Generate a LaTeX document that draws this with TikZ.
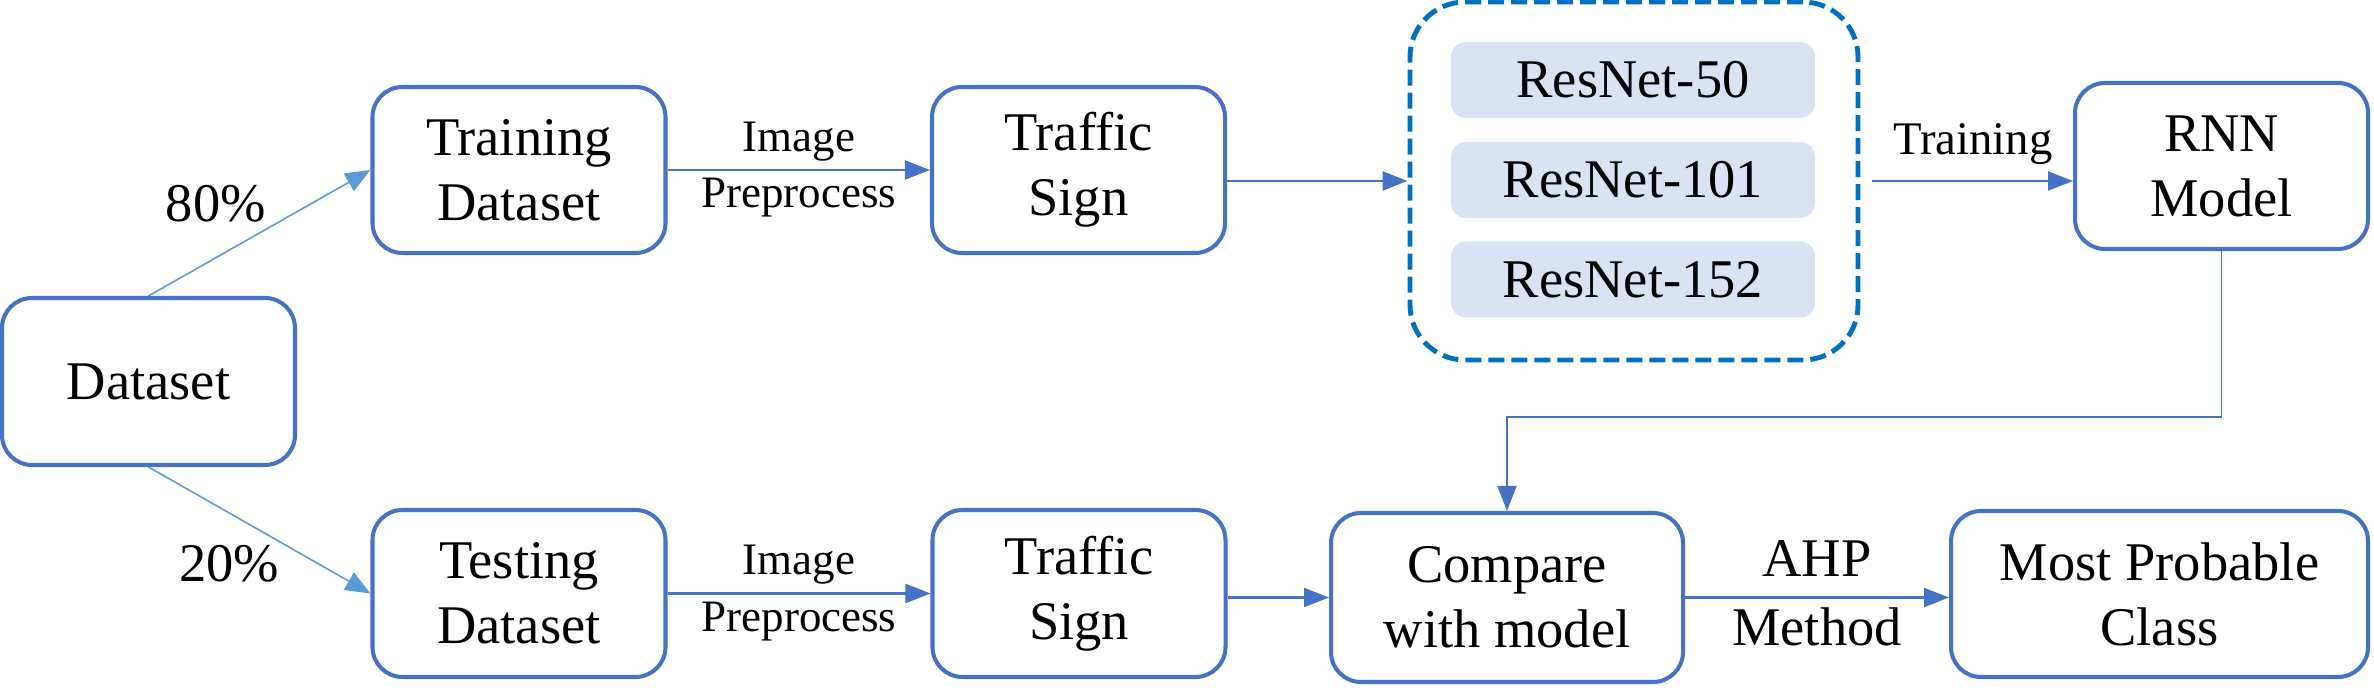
\documentclass[tikz,border=0pt]{standalone}
\usepackage{fontspec}
\setmainfont{Liberation Serif}
\usetikzlibrary{arrows.meta}

\definecolor{boxblue}{HTML}{4472C4}
\definecolor{dashblue}{HTML}{0070C0}
\definecolor{splitblue}{HTML}{5B9BD5}
\definecolor{resfill}{HTML}{DAE3F3}
\newcommand{\blockfont}{\fontsize{15.5}{18.5}\selectfont}
\newcommand{\edgefont}{\fontsize{12.8}{15}\selectfont}

\begin{document}
\begin{tikzpicture}[
  box/.style={draw=boxblue, line width=1.15pt, rounded corners=0.3cm,
    minimum width=2.93cm, minimum height=1.66cm, align=center, font=\blockfont},
  resbox/.style={fill=resfill, rounded corners=0.15cm, minimum width=3.64cm,
    minimum height=0.76cm, font=\blockfont},
  resgroup/.style={draw=dashblue, line width=1.4pt, dash pattern=on 0.16cm off 0.07cm,
    rounded corners=0.55cm, minimum width=4.48cm, minimum height=3.58cm},
  arr/.style={draw=boxblue, line width=0.6pt, -{Triangle[length=0.25cm,width=0.19cm]}},
  thinarr/.style={arr, line width=0.45pt},
  split/.style={draw=splitblue, line width=0.45pt, -{Triangle[length=0.25cm,width=0.2cm]}},
  edgelbl/.style={font=\edgefont, inner sep=0.07cm},
  biglbl/.style={font=\blockfont, inner sep=0.09cm}
]
\useasboundingbox (0,0) rectangle (23.74,6.96);

% boxes
\node[box, minimum height=1.67cm] (dataset) at (1.485,3.145) {Dataset};
\node[box] (train) at (5.19,5.26) {Training\\Dataset};
\node[box] (sign1) at (10.785,5.26) {Traffic\\Sign};
\node[box] (rnn) at (22.215,5.30) {RNN\\Model};
\node[box, minimum height=1.67cm] (test) at (5.19,1.025) {Testing\\Dataset};
\node[box, minimum height=1.67cm] (sign2) at (10.79,1.025) {Traffic\\Sign};
\node[box, minimum width=3.52cm, minimum height=1.69cm] (compare) at (15.07,0.985) {Compare\\with model};
\node[box, minimum width=4.17cm] (mostprob) at (21.595,1.02) {Most Probable\\Class};

% resnets
\node[resgroup] (nets) at (16.34,5.15) {};
\node[resbox] (res50) at (16.33,6.16) {ResNet-50};
\node[resbox] (res101) at (16.33,5.16) {ResNet-101};
\node[resbox] (res152) at (16.33,4.165) {ResNet-152};

% split
\draw[split] (dataset.north) -- node[pos=0.55, anchor=south east, inner sep=0.04cm, font=\blockfont] (p80) {80\%} (train.west);
\draw[split] (dataset.south) -- node[pos=0.6, anchor=north east, inner sep=0.02cm, font=\blockfont] (p20) {20\%} (test.west);

% training row
\draw[arr] (train.east) -- node[edgelbl, above, inner sep=0.08cm] {Image} node[edgelbl, below] {Preprocess} (sign1.west);
\draw[arr] (sign1.east |- nets.west) -- (nets.west);
\draw[arr] ([xshift=0.12cm]nets.east) -- node[edgelbl, above, font=\fontsize{13.3}{15}\selectfont, inner sep=0.15cm] {Training} (nets.east -| rnn.west);

% testing row
\draw[arr] (test.east) -- node[edgelbl, above, inner sep=0.08cm] {Image} node[edgelbl, below] {Preprocess} (sign2.west);
\draw[arr] (sign2.east |- compare.west) -- (compare.west);
\draw[arr] (compare.east) -- node[biglbl, above, inner sep=0.2cm] {AHP} node[biglbl, below] {Method} (compare.east -| mostprob.west);

% model feedback
\coordinate (turn) at (22.2,2.79);
\draw[thinarr] (rnn.south) -- (rnn.south |- turn) -| (compare.north);
\end{tikzpicture}
\end{document}
